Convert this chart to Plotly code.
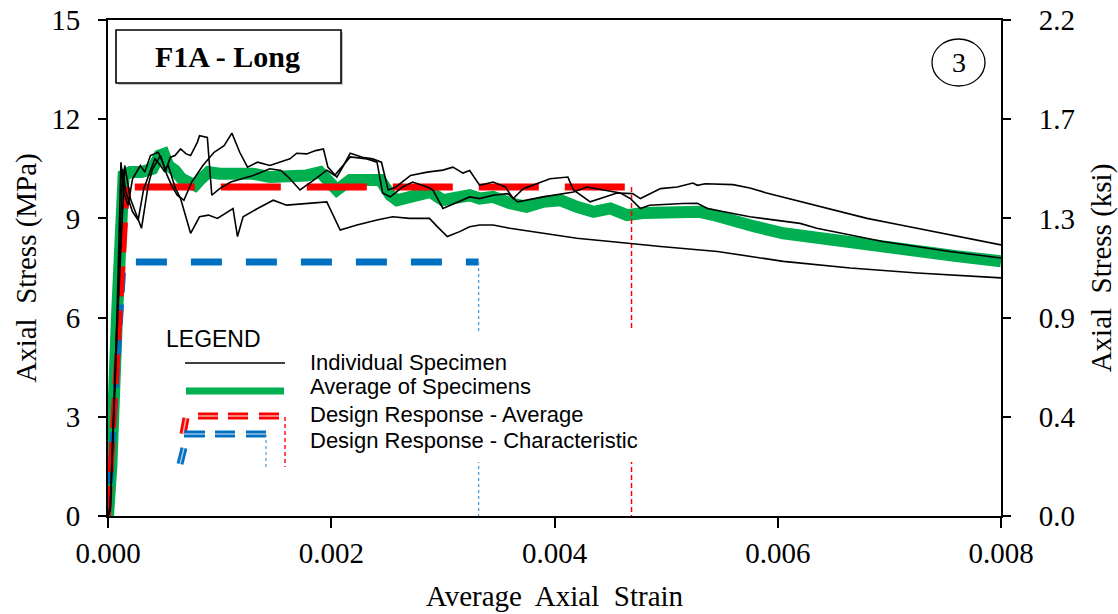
import plotly.graph_objects as go

# ---------------------------------------------------------------
# Data: axial stress (MPa) vs average axial strain, F1A - Long
# ---------------------------------------------------------------
spec_a_strain = [0.0, 0.00002, 0.00008, 0.000116, 0.00014, 0.00018, 0.00022, 0.00029, 0.00033,
                 0.00038, 0.00045, 0.00049, 0.00053, 0.00057, 0.00062, 0.00068, 0.00075, 0.00085,
                 0.00095, 0.00104, 0.00111, 0.00118, 0.00125, 0.00134, 0.00145, 0.00155, 0.00163,
                 0.00169, 0.00178, 0.00186, 0.00193, 0.00197, 0.00205, 0.00211, 0.00217, 0.00228,
                 0.00237, 0.00245, 0.00251, 0.00258, 0.00271, 0.00286, 0.00300, 0.00309, 0.00318,
                 0.00324, 0.00333, 0.00345, 0.00356, 0.00363, 0.00372, 0.00396, 0.00412, 0.00417,
                 0.00432, 0.00456, 0.00470, 0.00477, 0.00495, 0.00510, 0.00524, 0.00528, 0.00535,
                 0.00560, 0.00575, 0.00590, 0.00605, 0.00620, 0.00650, 0.00680, 0.00710, 0.00739,
                 0.00770, 0.00800]
spec_a_stress = [0.0, 0.3, 6.0, 10.7, 9.8, 9.4, 10.2, 10.6, 10.4,
                 10.9, 11.0, 10.7, 10.3, 10.0, 9.7, 9.55, 10.1, 10.6,
                 11.0, 11.2, 11.58, 11.0, 10.55, 10.7, 10.6, 10.7, 10.8,
                 10.97, 10.95, 11.05, 11.1, 10.55, 10.25, 10.6, 10.97, 10.85,
                 10.8, 10.7, 9.86, 9.95, 10.3, 10.4, 10.46, 10.55, 10.37,
                 10.45, 10.0, 10.1, 9.95, 9.6, 9.9, 10.2, 10.25, 9.86,
                 9.5, 9.77, 9.75, 9.6, 9.9, 9.95, 10.07, 10.0, 10.05,
                 10.02, 9.92, 9.77, 9.64, 9.5, 9.25, 9.0, 8.8, 8.6,
                 8.4, 8.2]

spec_b_strain = [0.0, 0.00002, 0.00009, 0.00013, 0.00016, 0.00022, 0.00027, 0.00032, 0.00042,
                 0.00047, 0.00051, 0.00056, 0.00060, 0.00065, 0.00070, 0.00074, 0.00080, 0.00082,
                 0.00089, 0.00093, 0.00100, 0.00110, 0.00120, 0.00130, 0.00145, 0.00155, 0.00163,
                 0.00172, 0.00184, 0.00196, 0.00203, 0.00217, 0.00232, 0.00241, 0.00246, 0.00253,
                 0.00264, 0.00273, 0.00286, 0.00291, 0.00300, 0.00313, 0.00324, 0.00333, 0.00345,
                 0.00358, 0.00367, 0.00390, 0.00417, 0.00429, 0.00445, 0.00459, 0.00468, 0.00477,
                 0.00485, 0.00495, 0.00515, 0.00528, 0.00537, 0.00575, 0.00620, 0.00635, 0.00694,
                 0.00754, 0.00800]
spec_b_stress = [0.0, 0.2, 6.5, 10.5, 9.8, 9.2, 8.95, 9.9, 10.8,
                 10.6, 10.4, 10.85, 10.9, 11.1, 10.95, 10.9, 11.3, 11.5,
                 11.45, 9.7, 9.9, 10.1, 10.2, 10.3, 10.5, 10.45, 10.2,
                 9.86, 10.15, 10.46, 10.3, 10.86, 10.8, 10.7, 9.77, 9.65,
                 9.95, 10.1, 9.95, 9.86, 9.3, 9.5, 9.65, 9.6, 9.7,
                 9.75, 9.5, 9.65, 9.8, 9.95, 9.85, 9.77, 9.6, 9.3,
                 9.4, 9.42, 9.45, 9.46, 9.3, 9.05, 8.85, 8.7, 8.3,
                 8.0, 7.8]

spec_c_strain = [0.0, 0.00002, 0.00008, 0.00015, 0.00020, 0.00030, 0.00036, 0.00040, 0.00047,
                 0.00051, 0.00054, 0.00060, 0.00065, 0.00074, 0.00082, 0.00090, 0.00098, 0.00107,
                 0.00112, 0.00116, 0.00121, 0.00134, 0.00148, 0.00160, 0.00175, 0.00190, 0.00196,
                 0.00208, 0.00223, 0.00241, 0.00255, 0.00270, 0.00288, 0.00295, 0.00304, 0.00315,
                 0.00324, 0.00333, 0.00345, 0.00360, 0.00390, 0.00420, 0.00450, 0.00479, 0.00495,
                 0.00546, 0.00605, 0.00665, 0.00725, 0.00800]
spec_c_stress = [0.0, 0.2, 5.5, 10.6, 9.6, 8.7, 10.0, 10.5, 10.9,
                 10.5, 10.6, 9.95, 9.6, 8.55, 9.05, 9.1, 9.0, 9.2,
                 9.3, 8.45, 9.05, 9.3, 9.55, 9.4, 9.45, 9.5, 9.5,
                 8.65, 8.8, 8.95, 9.05, 9.0, 9.0, 8.75, 8.45, 8.6,
                 8.75, 8.8, 8.8, 8.7, 8.55, 8.4, 8.3, 8.2, 8.15,
                 8.0, 7.7, 7.5, 7.35, 7.2]

avg_strain = [0.0, 0.00003, 0.00008, 0.00012, 0.00014, 0.00020, 0.00030, 0.00040, 0.00046,
              0.00050, 0.00054, 0.00060, 0.00066, 0.00072, 0.00078, 0.00082, 0.00090, 0.00100,
              0.00115, 0.00130, 0.00145, 0.00160, 0.00178, 0.00190, 0.00205, 0.00217, 0.00232,
              0.00244, 0.00253, 0.00259, 0.00271, 0.00289, 0.00300, 0.00313, 0.00324, 0.00333,
              0.00345, 0.00360, 0.00375, 0.00390, 0.00405, 0.00420, 0.00435, 0.00450, 0.00465,
              0.00479, 0.00495, 0.00524, 0.00530, 0.00545, 0.00560, 0.00580, 0.00605, 0.00635,
              0.00665, 0.00695, 0.00725, 0.00760, 0.00800]
avg_stress = [0.0, 1.5, 6.0, 9.5, 10.3, 10.4, 10.4, 10.5, 10.9,
              10.95, 10.6, 10.45, 10.2, 10.1, 10.0, 10.15, 10.4, 10.35,
              10.35, 10.35, 10.25, 10.25, 10.3, 10.4, 9.86, 10.16, 10.2,
              10.16, 9.7, 9.55, 9.65, 9.8, 9.55, 9.6, 9.7, 9.6,
              9.65, 9.46, 9.35, 9.5, 9.55, 9.35, 9.2, 9.3, 9.1,
              9.16, 9.2, 9.22, 9.2, 9.08, 8.92, 8.75, 8.55, 8.4,
              8.25, 8.12, 8.0, 7.86, 7.7]

# Design responses (stress plateau and limiting strain)
design_avg_stress = 9.95
design_avg_yield_strain = 0.00017
design_avg_plateau_start = 0.00024
design_avg_limit_strain = 0.00469

design_char_stress = 7.68
design_char_yield_strain = 0.00014
design_char_plateau_start = 0.00025
design_char_limit_strain = 0.00332

# Axes
x_tick_vals = [0.0, 0.002, 0.004, 0.006, 0.008]
x_tick_labels = ["0.000", "0.002", "0.004", "0.006", "0.008"]
mpa_tick_vals = [0, 3, 6, 9, 12, 15]
ksi_tick_labels = ["0.0", "0.4", "0.9", "1.3", "1.7", "2.2"]
MPA_TO_KSI = 0.145038

legend_labels = ["Individual Specimen", "Average of Specimens",
                 "Design Response - Average", "Design Response - Characteristic"]

BLACK = "#000000"
GREEN = "#00B050"
RED = "#FF0000"
BLUE = "#0070C0"
LIGHT_BLUE = "#4F9BD9"
SERIF = "Liberation Serif, Times New Roman, serif"
SANS = "Liberation Sans, Arial, sans-serif"

fig = go.Figure()

# Average curve (wide green band), drawn first so specimens sit on top
fig.add_trace(go.Scatter(x=avg_strain, y=avg_stress, mode="lines",
                         line=dict(color=GREEN, width=12), hoverinfo="skip"))

# Design response - characteristic (blue)
fig.add_trace(go.Scatter(x=[0.0, design_char_yield_strain], y=[0.0, design_char_stress],
                         mode="lines", line=dict(color=BLUE, width=6, dash="20px,12px")))
fig.add_trace(go.Scatter(x=[design_char_plateau_start, design_char_limit_strain],
                         y=[design_char_stress, design_char_stress], mode="lines",
                         line=dict(color=BLUE, width=7, dash="31px,24px")))
fig.add_trace(go.Scatter(x=[design_char_limit_strain, design_char_limit_strain],
                         y=[design_char_stress, 0.0], mode="lines",
                         line=dict(color=LIGHT_BLUE, width=1.3, dash="3px,3px")))

# Design response - average (red)
fig.add_trace(go.Scatter(x=[0.0, design_avg_yield_strain], y=[0.0, design_avg_stress],
                         mode="lines", line=dict(color=RED, width=6, dash="30px,14px")))
fig.add_trace(go.Scatter(x=[design_avg_plateau_start, design_avg_limit_strain],
                         y=[design_avg_stress, design_avg_stress], mode="lines",
                         line=dict(color=RED, width=7, dash="60px,26px")))
fig.add_trace(go.Scatter(x=[design_avg_limit_strain, design_avg_limit_strain],
                         y=[design_avg_stress, 0.0], mode="lines",
                         line=dict(color=RED, width=1.5, dash="5px,3px")))

# Individual specimens
for sx, sy in [(spec_a_strain, spec_a_stress), (spec_b_strain, spec_b_stress),
               (spec_c_strain, spec_c_stress)]:
    fig.add_trace(go.Scatter(x=sx, y=sy, mode="lines",
                             line=dict(color=BLACK, width=1.6), hoverinfo="skip"))

# Secondary (ksi) axis carrier
fig.add_trace(go.Scatter(x=[None], y=[None], yaxis="y2", mode="lines", hoverinfo="skip"))

# ---------------------------------------------------------------
# Decorations: title box, panel number, in-plot legend
# ---------------------------------------------------------------
L, R, T, B = 108, 1001, 20, 516


def px(xp):
    return (xp - L) / (R - L)


def py(yp):
    return (B - yp) / (B - T)


shapes = []
annotations = []

# title box with a light drop shadow
shapes.append(dict(type="rect", xref="paper", yref="paper", x0=px(118), x1=px(343),
                   y0=py(85), y1=py(32), line=dict(width=0), fillcolor="#c4c4c4", layer="above"))
shapes.append(dict(type="rect", xref="paper", yref="paper", x0=px(116), x1=px(341),
                   y0=py(83), y1=py(30), line=dict(color=BLACK, width=1.6),
                   fillcolor="white", layer="above"))
annotations.append(dict(xref="paper", yref="paper", x=px(227), y=py(57), text="<b>F1A - Long</b>",
                        showarrow=False, font=dict(family=SERIF, size=30, color=BLACK),
                        xanchor="center", yanchor="middle"))

# panel number in an ellipse
shapes.append(dict(type="circle", xref="paper", yref="paper", x0=px(932), x1=px(985),
                   y0=py(86), y1=py(39), line=dict(color=BLACK, width=1.3), layer="above"))
annotations.append(dict(xref="paper", yref="paper", x=px(958.5), y=py(63), text="3",
                        showarrow=False, font=dict(family=SERIF, size=28, color=BLACK),
                        xanchor="center", yanchor="middle"))

# legend panel background
shapes.append(dict(type="rect", xref="paper", yref="paper", x0=px(160), x1=px(662),
                   y0=py(462), y1=py(331), line=dict(width=0), fillcolor="white", layer="above"))


def seg(x0, y0, x1, y1, color, width, dash="solid"):
    shapes.append(dict(type="line", xref="paper", yref="paper", x0=px(x0), y0=py(y0),
                       x1=px(x1), y1=py(y1), line=dict(color=color, width=width, dash=dash),
                       layer="above"))


def capsule(x0, y0, x1, y1, color):
    seg(x0, y0, x1, y1, color, 7)
    seg(x0, y0, x1, y1, "#F6B0B0" if color == RED else "#9CC3E6", 1.5)


# individual specimen sample
seg(185, 363, 285, 363, BLACK, 1.6)
# average sample
seg(186, 391, 284, 391, GREEN, 7)
# design average sample
capsule(186, 418, 183, 434, RED)
for a, b in [(198, 218), (228, 248), (259, 279)]:
    capsule(a, 416, b, 416, RED)
seg(285, 417, 285, 467, RED, 1.4, "4px,3px")
# design characteristic sample
for a, b in [(184, 205), (215, 235), (246, 266)]:
    capsule(a, 434, b, 434, BLUE)
capsule(184, 448, 180, 464, BLUE)
seg(266, 434, 266, 467, LIGHT_BLUE, 1.2, "3px,3px")

annotations.append(dict(xref="paper", yref="paper", x=px(164), y=py(339), text="LEGEND",
                        showarrow=False, font=dict(family=SANS, size=23, color=BLACK),
                        xanchor="left", yanchor="middle"))
for label, ypix in zip(legend_labels, [362, 386, 414, 440]):
    annotations.append(dict(xref="paper", yref="paper", x=px(308), y=py(ypix), text=label,
                            showarrow=False, font=dict(family=SANS, size=22, color=BLACK),
                            xanchor="left", yanchor="middle"))

tick_font = dict(family=SERIF, size=29, color=BLACK)
title_font = dict(family=SERIF, size=29, color=BLACK)

fig.update_layout(
    width=1118, height=614,
    margin=dict(l=L, r=1118 - R, t=T, b=614 - B),
    paper_bgcolor="white", plot_bgcolor="white",
    showlegend=False,
    shapes=shapes, annotations=annotations,
    xaxis=dict(range=[0, 0.008], tickvals=x_tick_vals, ticktext=x_tick_labels,
               ticks="outside", ticklen=10, tickwidth=1.5, tickcolor=BLACK,
               showline=True, linecolor=BLACK, linewidth=2, mirror=True,
               showgrid=False, zeroline=False, tickfont=tick_font,
               title=dict(text="Average\u00a0 Axial\u00a0 Strain", font=title_font, standoff=18),
               automargin=False),
    yaxis=dict(range=[0, 15], tickvals=mpa_tick_vals, ticks="outside", ticklen=8,
               tickwidth=1.5, tickcolor=BLACK, showline=True, linecolor=BLACK, linewidth=2,
               showgrid=False, zeroline=False, tickfont=tick_font, ticklabelstandoff=12,
               title=dict(text="Axial\u00a0 Stress (MPa)", font=title_font, standoff=6),
               automargin=False),
    yaxis2=dict(overlaying="y", side="right", range=[0, 15 * MPA_TO_KSI],
                tickvals=[v * MPA_TO_KSI for v in mpa_tick_vals], ticktext=ksi_tick_labels,
                ticks="outside", ticklen=8, tickwidth=1.5, tickcolor=BLACK,
                showline=True, linecolor=BLACK, linewidth=2, showgrid=False, zeroline=False,
                tickfont=tick_font, ticklabelstandoff=22,
                title=dict(text="Axial\u00a0 Stress (ksi)", font=title_font, standoff=18),
                automargin=False),
)

fig.write_html("out.html")
